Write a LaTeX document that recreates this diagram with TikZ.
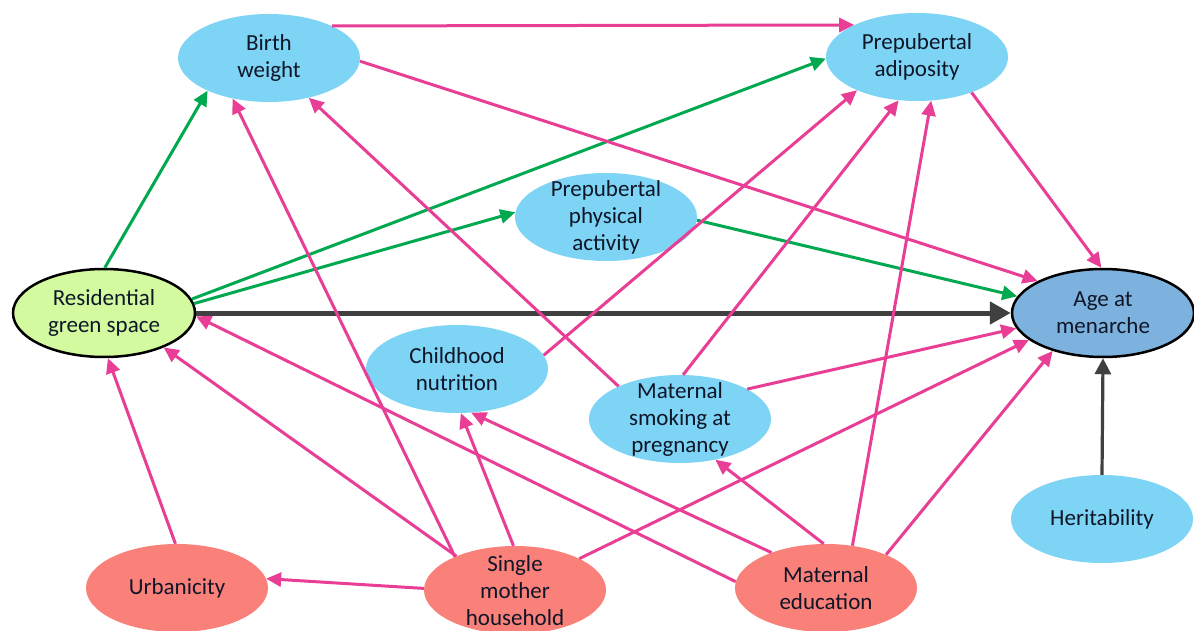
\documentclass[tikz,border=0pt]{standalone}
\usepackage{fontspec}
\setmainfont{Carlito}
\usetikzlibrary{arrows.meta,shapes.geometric}
\definecolor{lblue}{RGB}{125,212,245}
\definecolor{ageblue}{RGB}{125,178,222}
\definecolor{lgreen}{RGB}{212,250,160}
\definecolor{salmon}{RGB}{250,128,122}
\definecolor{pinkline}{RGB}{233,62,150}
\definecolor{greenline}{RGB}{0,168,80}
\definecolor{grayline}{RGB}{64,64,64}
\definecolor{txtcol}{RGB}{15,22,40}
\tikzset{
  ell/.style={ellipse, minimum width=182pt, minimum height=88pt, inner sep=0pt},
  txt/.style={align=center, text=txtcol, font=\fontsize{23}{27}\selectfont, inner sep=0pt},
  pk/.style={draw=pinkline, line width=3pt, -{Triangle[length=15pt,width=14pt]}},
  gr/.style={draw=greenline, line width=3pt, -{Triangle[length=15pt,width=14pt]}},
  gy/.style={draw=grayline, line width=5pt, -{Triangle[length=21pt,width=22pt]}},
  gys/.style={draw=grayline, line width=3.2pt, -{Triangle[length=16pt,width=16pt]}},
}
\begin{document}
\begin{tikzpicture}[x=1pt,y=-1pt]
\useasboundingbox (0,0) rectangle (1194,631);
\fill[white] (0,0) rectangle (1194,631);
\begin{scope}
\clip (0,0) rectangle (1194,631);
\node[ell, fill=lblue] (bw) at (269,58) {};
\node[txt] (bwt) at (269,58) {Birth\\weight};
\node[ell, fill=lblue] (pa) at (917,57) {};
\node[txt] (pat) at (917,57) {Prepubertal\\adiposity};
\node[ell, fill=lblue] (ppa) at (606,217) {};
\node[txt] (ppat) at (606,217) {Prepubertal\\physical\\activity};
\node[ell, fill=lgreen, draw=black, line width=2.5pt] (rgs) at (104,313) {};
\node[txt] (rgst) at (104,313) {Residential\\green space};
\node[ell, fill=ageblue, draw=black, line width=2.5pt] (age) at (1103,313) {};
\node[txt] (aget) at (1103,313) {Age at\\menarche};
\node[ell, fill=lblue] (cn) at (457,369) {};
\node[txt] (cnt) at (457,369) {Childhood\\nutrition};
\node[ell, fill=lblue] (ms) at (680,419) {};
\node[txt] (mst) at (680,419) {Maternal\\smoking at\\pregnancy};
\node[ell, fill=lblue] (her) at (1102,519) {};
\node[txt] (hert) at (1102,519) {Heritability};
\node[ell, fill=salmon] (urb) at (177,588) {};
\node[txt] (urbt) at (177,588) {Urbanicity};
\node[ell, fill=salmon] (sm) at (515,590) {};
\node[txt] (smt) at (515,591) {Single\\mother\\household};
\node[ell, fill=salmon] (me) at (826,588) {};
\node[txt] (met) at (826,588) {Maternal\\education};
\end{scope}
% green edges
\draw[gr] (rgs.89) -- (bw.208);
\draw[gr] (rgs.9) -- (pa.181);
\draw[gr] (rgs.6) -- (ppa.177);
\draw[gr] (ppa.358) -- (age.169);
% gray edges
\draw[gy] (rgs.0) -- (age.180);
\draw[gys] (her.90) -- (age.270);
% pink edges
\draw[pk] (bw.27) -- (pa.153);
\draw[pk] (bw.358) -- (age.154);
\draw[pk] (pa.327) -- (age.92);
\draw[pk] (cn.9) -- (pa.209);
\draw[pk] (ms.152) -- (bw.315);
\draw[pk] (ms.86) -- (pa.247);
\draw[pk] (ms.24) -- (age.190);
\draw[pk] (sm.151) -- (bw.228);
\draw[pk] (sm.150) -- (rgs.330);
\draw[pk] (sm.179) -- (urb.6);
\draw[pk] (sm.92) -- (cn.275);
\draw[pk] (sm.26) -- (age.200);
\draw[pk] (urb.92) -- (rgs.275);
\draw[pk] (me.176) -- (rgs.358);
\draw[pk] (me.147) -- (cn.288);
\draw[pk] (me.93) -- (ms.311);
\draw[pk] (me.58) -- (pa.288);
\draw[pk] (me.29) -- (age.217);
\end{tikzpicture}
\end{document}
